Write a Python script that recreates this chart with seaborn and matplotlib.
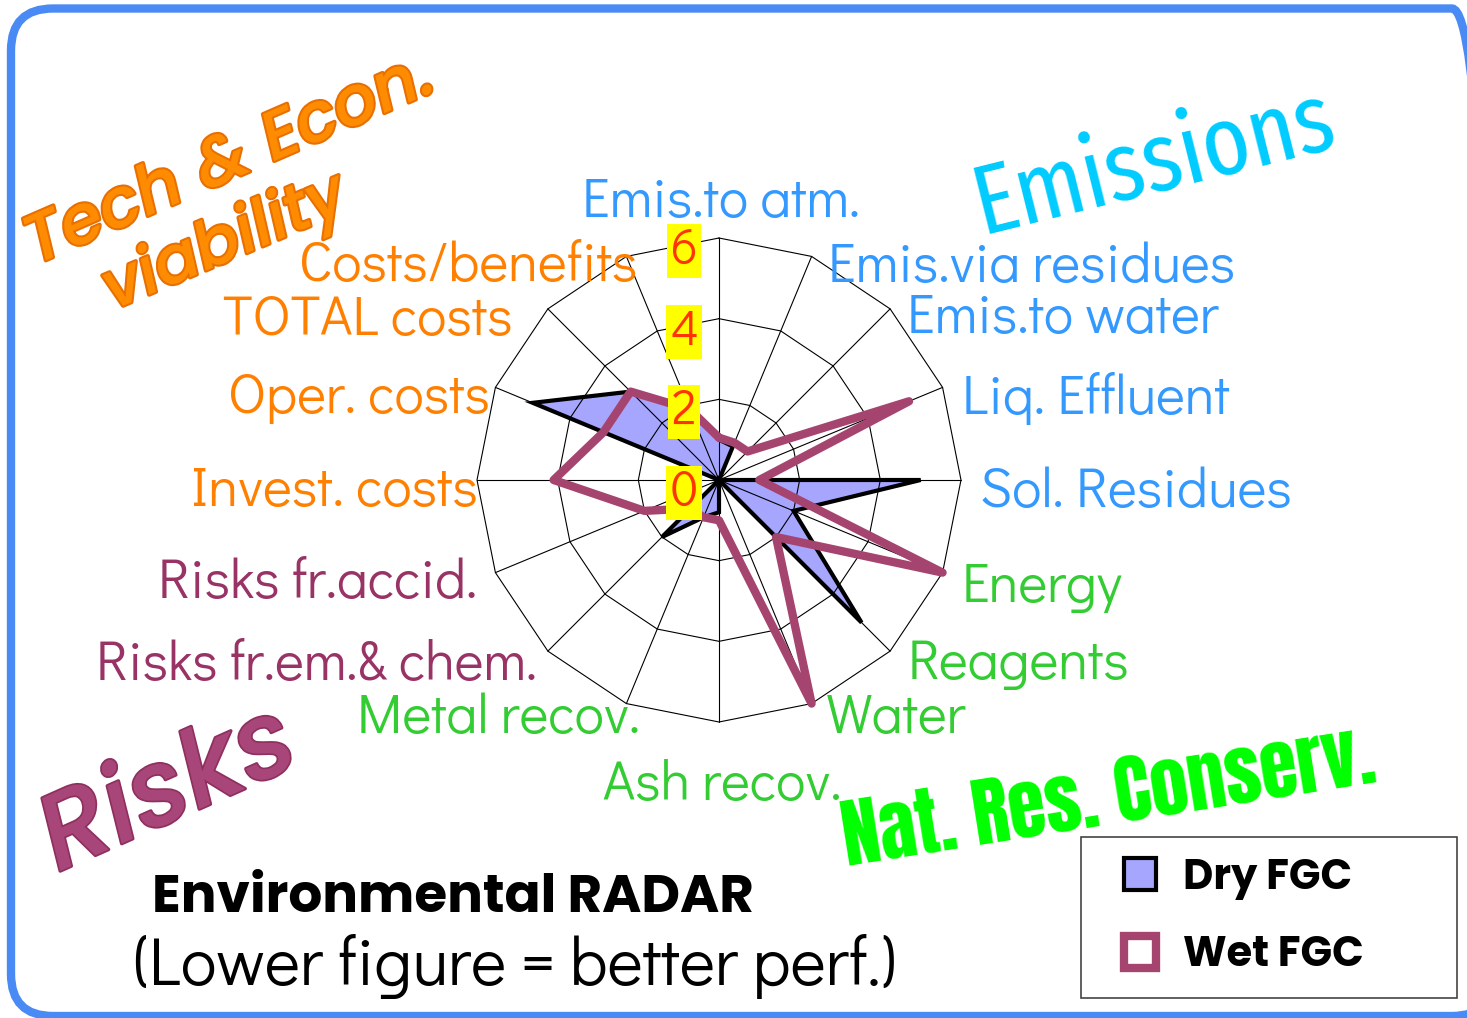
import os
import numpy as np
import pandas as pd
import matplotlib
matplotlib.use("Agg")
import matplotlib.pyplot as plt
import matplotlib.font_manager as fm
import matplotlib.patheffects as pe
from matplotlib.patches import FancyBboxPatch, Patch, Rectangle
from matplotlib.legend_handler import HandlerPatch
from matplotlib.transforms import ScaledTranslation
import seaborn as sns

# ---------------- data ----------------
categories = ["Emis.to atm.", "Emis.via residues", "Emis.to water", "Liq. Effluent",
              "Sol. Residues", "Energy", "Reagents", "Water", "Ash recov.",
              "Metal recov.", "Risks fr.em.& chem.", "Risks fr.accid.",
              "Invest. costs", "Oper. costs", "TOTAL costs", "Costs/benefits"]
groups = ["Emissions"] * 5 + ["NatRes"] * 5 + ["Risks"] * 2 + ["Tech"] * 4
dry_fgc = [1.0, 0.9, 0.0, 0.0, 5.0, 2.0, 5.0, 0.0, 0.8, 1.0, 2.0, 0.0, 0.0, 5.0, 3.1, 1.9]
wet_fgc = [1.05, 1.0, 1.0, 5.1, 1.0, 6.0, 2.0, 6.0, 1.0, 1.0, 1.0, 2.0, 4.1, 3.1, 3.1, 1.9]
r_ticks = [0, 2, 4, 6]
series_names = ["Dry FGC", "Wet FGC"]

# ---------------- styles ----------------
W, H, DPI = 1467, 1018, 100
DRY_FILL = "#A6A6FF"
WET = "#A64470"
group_colors = {"Emissions": "#3399FF", "NatRes": "#33CC33",
                "Risks": "#993366", "Tech": "#FF8000"}

sns.set_style("white")
plt.rcParams["font.family"] = ["DejaVu Sans"]

files = {os.path.basename(f.fname).lower(): f.fname for f in fm.fontManager.ttflist}
names_sorted = sorted(files)


def pick(cands, fallback):
    for c in cands:
        for k in names_sorted:
            if k == c or (c.endswith("*") and k.startswith(c[:-1])):
                return fm.FontProperties(fname=files[k])
    return fallback


GOTHIC = pick(["didactgothic-regular.ttf", "questrial-regular.ttf"],
              fm.FontProperties(family="DejaVu Sans"))
GOTHIC_BOLD = pick(["poppins-bold.ttf", "poppins-semibold.ttf"],
                   fm.FontProperties(family="DejaVu Sans", weight="bold"))
GOTHIC_ITAL = pick(["poppins-mediumitalic.ttf", "poppins-italic.ttf"],
                   fm.FontProperties(family="DejaVu Sans", style="oblique"))
EMIS_FONT = pick(["firasansextracondensed-regular.ttf", "firasansextracondensed-medium.ttf",
                  "robotocondensed-regular.ttf"], fm.FontProperties(family="DejaVu Sans"))
NATRES_FONT = pick(["leaguegothic-regular*", "anton-regular.ttf", "oswald*",
                    "robotocondensed-bold.ttf"],
                   fm.FontProperties(family="DejaVu Sans", weight="bold"))

fig = plt.figure(figsize=(W / DPI, H / DPI), dpi=DPI)
fig.patch.set_facecolor("white")
renderer = fig.canvas.get_renderer()


def fx(x):
    return x / W


def fy(y):
    return 1 - y / H


def size_for(s, fp, target_px):
    """font size (pt) that gives the unrotated string the target pixel width"""
    t = fig.text(0, 0, s, fontproperties=fp, fontsize=100)
    w = t.get_window_extent(renderer).width
    t.remove()
    return 100 * target_px / w


def with_size(fp, size):
    f = fp.copy()
    f.set_size(size)
    return f


# rounded blue frame (partly running off the right and bottom edges)
frame = FancyBboxPatch((11 / DPI, (H - 1016) / DPI), (1494 - 11) / DPI, (1016 - 8.5) / DPI,
                       boxstyle="round,pad=0,rounding_size=0.42",
                       transform=fig.dpi_scale_trans, fill=False,
                       ec="#4A8AF4", lw=6, zorder=0)
fig.add_artist(frame)

# ---------------- radar ----------------
CX, CY, R = 719, 480, 242
ax = fig.add_axes([fx(CX - R), fy(CY + R), 2 * R / W, 2 * R / H], projection="polar")
ax.set_theta_zero_location("N")
ax.set_theta_direction(-1)

n = len(categories)
theta = np.arange(n) * 2 * np.pi / n
theta_c = np.append(theta, 2 * np.pi)
dry_c = dry_fgc + dry_fgc[:1]
wet_c = wet_fgc + wet_fgc[:1]

ax.fill(theta_c, dry_c, color=DRY_FILL, lw=0, zorder=1)
for r in r_ticks[1:]:
    ax.plot(theta_c, [r] * (n + 1), color="black", lw=0.8, zorder=2)
for t in theta:
    ax.plot([t, t], [0, r_ticks[-1]], color="black", lw=0.8, zorder=2)

df = pd.DataFrame({"theta": np.concatenate([theta_c, theta_c]),
                   "value": dry_c + wet_c,
                   "series": [series_names[0]] * (n + 1) + [series_names[1]] * (n + 1)})
sns.lineplot(data=df[df.series == "Dry FGC"], x="theta", y="value", sort=False,
             estimator=None, color="black", lw=3, ax=ax, zorder=3,
             solid_joinstyle="miter", legend=False)
sns.lineplot(data=df[df.series == "Wet FGC"], x="theta", y="value", sort=False,
             estimator=None, color=WET, lw=6, ax=ax, zorder=4,
             solid_joinstyle="round", solid_capstyle="round", legend=False)

ax.set_ylim(0, r_ticks[-1])
ax.set_xticks([])
ax.set_yticks([])
ax.grid(False)
ax.spines["polar"].set_visible(False)
ax.set_xlabel("")
ax.set_ylabel("")
ax.set_facecolor("none")
for ln in ax.lines:
    ln.set_clip_on(False)
for p in ax.patches:
    p.set_clip_on(False)

off = ScaledTranslation(-35 / DPI, -13 / DPI, fig.dpi_scale_trans)
for r in r_ticks:
    ax.text(0, r, str(r), transform=ax.transData + off, ha="center", va="center",
            fontproperties=with_size(GOTHIC, 35), color="#FF3300", zorder=6,
            bbox=dict(boxstyle="square,pad=0.08", fc="#FFFF00", ec="none"))

# ---------------- category labels ----------------
label_layout = [  # (x px, baseline px, ha, width px)
    (582, 217, "left", 286), (828, 282, "left", 390), (907, 333, "left", 315),
    (962, 414, "left", 268), (980, 507, "left", 300), (962, 602, "left", 160),
    (908, 679, "left", 224), (826, 733, "left", 138), (842, 800, "right", 239),
    (640, 733, "right", 300), (537, 680, "right", 452), (477, 598, "right", 311),
    (478, 506, "right", 283), (490, 413, "right", 268), (513, 335, "right", 273),
    (637, 281, "right", 337),
]
label_size = float(np.median([size_for(c, GOTHIC, L[3])
                              for c, L in zip(categories, label_layout)]))
for cat, grp, (x, y, ha, _) in zip(categories, groups, label_layout):
    fig.text(fx(x), fy(y), cat, ha=ha, va="baseline",
             fontproperties=with_size(GOTHIC, label_size), color=group_colors[grp])

# ---------------- word-art headings ----------------
orange_fx = [pe.withStroke(linewidth=3, foreground="#E86F00")]
fig.text(fx(35), fy(265), "Tech & Econ.", rotation=23.5, rotation_mode="anchor",
         ha="left", va="baseline", color="#FF8C00", path_effects=orange_fx,
         fontproperties=with_size(GOTHIC_ITAL, size_for("Tech & Econ.", GOTHIC_ITAL, 440)))
fig.text(fx(113), fy(310), "viability", rotation=23.0, rotation_mode="anchor",
         ha="left", va="baseline", color="#FF8C00", path_effects=orange_fx,
         fontproperties=with_size(GOTHIC_ITAL, size_for("viability", GOTHIC_ITAL, 258)))
fig.text(fx(58), fy(872), "Risks", rotation=24, rotation_mode="anchor",
         ha="left", va="baseline", color="#A8467A",
         path_effects=[pe.withStroke(linewidth=2.5, foreground="#8E2F5E")],
         fontproperties=with_size(GOTHIC_ITAL, size_for("Risks", GOTHIC_ITAL, 268)))
fig.text(fx(982), fy(234), "Emissions", rotation=14, rotation_mode="anchor",
         ha="left", va="baseline", color="#00CCFF",
         fontproperties=with_size(EMIS_FONT, size_for("Emissions", EMIS_FONT, 368)))
fig.text(fx(847), fy(867), "Nat. Res. Conserv.", rotation=9, rotation_mode="anchor",
         ha="left", va="baseline", color="#00FF00",
         fontproperties=with_size(NATRES_FONT,
                                  size_for("Nat. Res. Conserv.", NATRES_FONT, 538)))

# ---------------- title ----------------
fig.text(fx(152), fy(912), "Environmental RADAR", ha="left", va="baseline", color="black",
         fontproperties=with_size(GOTHIC_BOLD,
                                  size_for("Environmental RADAR", GOTHIC_BOLD, 603)))
fig.text(fx(133), fy(985), "(Lower figure = better perf.)", ha="left", va="baseline",
         color="black",
         fontproperties=with_size(GOTHIC,
                                  size_for("(Lower figure = better perf.)", GOTHIC, 764)))

# ---------------- legend ----------------


def square_patch(legend, orig_handle, xdescent, ydescent, width, height, fontsize):
    s = height
    return Rectangle((-xdescent + width - s, -ydescent), s, s)


leg_size = size_for("Wet FGC", GOTHIC_BOLD, 181)
handles = [Patch(facecolor=DRY_FILL, edgecolor="black", linewidth=3, label=series_names[0]),
           Patch(facecolor="white", edgecolor=WET, linewidth=6, label=series_names[1])]
leg = fig.legend(handles=handles, loc="upper left",
                 bbox_to_anchor=(fx(1081), fy(988), (1457 - 1081) / W, (988 - 837) / H),
                 mode="expand", prop=with_size(GOTHIC_BOLD, leg_size),
                 handlelength=1.3, handleheight=0.8, handletextpad=0.65,
                 borderpad=0.5, labelspacing=0.85, borderaxespad=0,
                 frameon=True, fancybox=False, edgecolor="#444444", framealpha=1,
                 handler_map={Patch: HandlerPatch(patch_func=square_patch)})
leg.get_frame().set_linewidth(1.2)
for txt in leg.get_texts():
    txt.set_color("black")

fig.savefig("out.png", dpi=DPI)
